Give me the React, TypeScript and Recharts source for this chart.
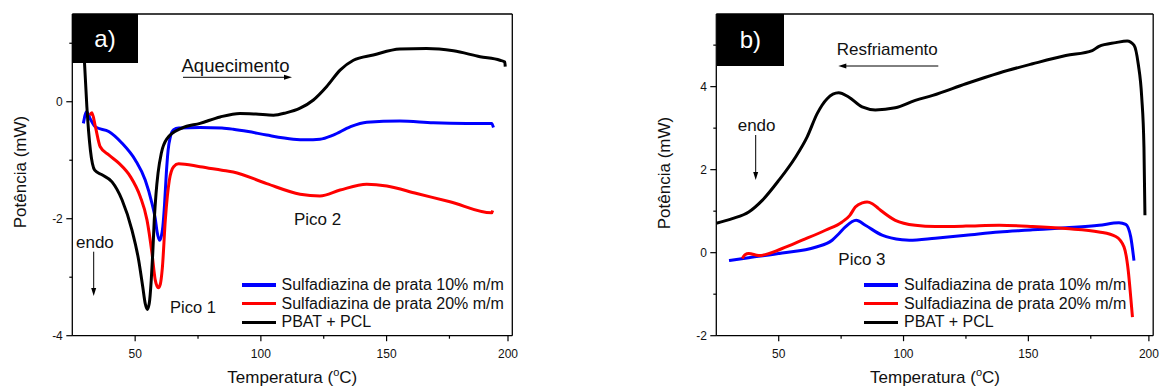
import React from 'react';
import { LineChart, Line, XAxis, YAxis, ReferenceLine } from 'recharts';

const FONT = 'Arial, "Liberation Sans", Helvetica, sans-serif';

// ---- a) Heating run ----
const heatBlueT = [29.4, 30.7, 32.0, 34.2, 39.5, 44.8, 50.1, 54.0, 56.7, 58.0, 58.7, 59.7, 60.4, 61.0, 61.7, 62.4, 63.1, 64.0, 65.3, 67.3, 75.8, 84.5, 89.0, 95.0, 102.3, 112.9, 118.0, 123.5, 128.8, 135.5, 142.1, 155.3, 168.6, 181.9, 191.8, 192.5];
const heatBlueP = [-0.37, -0.17, -0.28, -0.43, -0.51, -0.71, -1.0, -1.34, -1.74, -2.0, -2.22, -2.37, -2.3, -2.14, -1.75, -1.22, -0.83, -0.6, -0.48, -0.45, -0.44, -0.45, -0.47, -0.51, -0.57, -0.64, -0.65, -0.64, -0.57, -0.43, -0.35, -0.33, -0.36, -0.37, -0.37, -0.44];

const heatRedT = [32.0, 32.8, 34.2, 36.1, 39.5, 43.5, 48.1, 52.0, 54.7, 56.7, 58.0, 59.2, 60.0, 60.8, 62.0, 63.6, 65.3, 67.3, 75.8, 84.5, 89.0, 102.3, 115.6, 123.5, 131.5, 142.1, 150.1, 162.0, 175.2, 191.8, 192.2];
const heatRedP = [-0.23, -0.19, -0.43, -0.77, -0.91, -1.05, -1.28, -1.62, -2.02, -2.59, -3.05, -3.18, -3.12, -2.85, -2.02, -1.34, -1.11, -1.06, -1.11, -1.17, -1.2, -1.4, -1.58, -1.61, -1.51, -1.41, -1.44, -1.57, -1.71, -1.9, -1.86];

const heatBlackT = [29.3, 29.9, 30.8, 32.2, 33.9, 36.8, 40.8, 44.8, 48.7, 51.4, 53.0, 54.0, 54.8, 55.6, 56.4, 57.0, 57.6, 58.3, 59.1, 60.4, 62.7, 68.6, 75.8, 83.8, 91.7, 98.0, 105.0, 110.0, 115.6, 120.9, 126.2, 131.5, 136.8, 144.7, 155.3, 165.9, 176.6, 187.2, 195.1, 197.0, 197.2];
const heatBlackP = [1.2, 0.63, -0.09, -0.83, -1.17, -1.25, -1.37, -1.68, -2.19, -2.71, -3.16, -3.45, -3.55, -3.45, -3.05, -2.59, -2.02, -1.57, -1.22, -0.88, -0.63, -0.45, -0.37, -0.26, -0.2, -0.21, -0.23, -0.19, -0.11, 0.03, 0.26, 0.54, 0.71, 0.8, 0.9, 0.91, 0.87, 0.77, 0.71, 0.68, 0.6];

// ---- b) Cooling run ----
const coolBlueT = [30.1, 38.0, 51.4, 64.7, 71.4, 74.0, 76.7, 81.0, 84.7, 91.4, 99.4, 102.3, 112.7, 125.0, 138.3, 151.7, 165.0, 178.3, 186.3, 189.0, 191.0, 192.3];
const coolBlueP = [-0.19, -0.12, -0.01, 0.13, 0.3, 0.45, 0.62, 0.78, 0.66, 0.42, 0.31, 0.3, 0.35, 0.42, 0.5, 0.55, 0.6, 0.66, 0.72, 0.68, 0.38, -0.19];

const coolRedT = [35.4, 36.5, 38.0, 42.0, 51.4, 59.4, 68.7, 75.4, 78.5, 80.7, 83.5, 85.4, 87.5, 90.0, 96.7, 104.7, 112.7, 125.0, 138.3, 151.7, 165.0, 178.3, 185.0, 188.3, 190.0, 191.0, 191.7];
const coolRedP = [-0.14, -0.05, -0.02, -0.07, 0.1, 0.3, 0.54, 0.74, 0.9, 1.1, 1.2, 1.22, 1.18, 1.06, 0.78, 0.66, 0.63, 0.64, 0.66, 0.63, 0.58, 0.5, 0.39, 0.14, -0.43, -1.07, -1.55];

const coolBlackT = [25.0, 31.4, 38.0, 43.4, 50.0, 56.7, 61.4, 65.4, 69.4, 74.0, 78.0, 83.4, 88.7, 96.7, 104.7, 111.7, 125.0, 138.3, 151.7, 165.0, 175.6, 178.3, 185.0, 189.6, 192.3, 194.0, 195.4, 196.3, 196.7];
const coolBlackP = [0.71, 0.82, 0.98, 1.26, 1.74, 2.3, 2.79, 3.35, 3.71, 3.85, 3.75, 3.51, 3.44, 3.49, 3.67, 3.79, 4.07, 4.33, 4.55, 4.75, 4.87, 4.97, 5.06, 5.1, 5.0, 4.55, 3.75, 2.54, 0.9];

const seriesNames = ['Sulfadiazina de prata 10% m/m', 'Sulfadiazina de prata 20% m/m', 'PBAT + PCL'];
const seriesColors = ['#0000ff', '#ff0000', '#000000'];

const xTicks = [50, 75, 100, 125, 150, 175, 200];
const heatYTicks = [-4, -3, -2, -1, 0, 1];
const coolYTicks = [-2, -1, 0, 1, 2, 3, 4, 5];

type Pt = { t: number; p: number };
const zip = (t: number[], p: number[]): Pt[] => t.map((v, i) => ({ t: v, p: p[i] }));

const heatSeries = [zip(heatBlueT, heatBlueP), zip(heatRedT, heatRedP), zip(heatBlackT, heatBlackP)];
const coolSeries = [zip(coolBlueT, coolBlueP), zip(coolRedT, coolRedP), zip(coolBlackT, coolBlackP)];

function XTick(props: any) {
  const { x, y, payload } = props;
  const major = payload.value % 50 === 0;
  return (
    <g>
      <line x1={x} y1={y} x2={x} y2={y + (major ? 5.5 : 3)} stroke="#000" strokeWidth={1.2} />
      {major && (
        <text x={x} y={y + 22} textAnchor="middle" fontSize={12} fontFamily={FONT} fill="#111">
          {payload.value}
        </text>
      )}
    </g>
  );
}

function YTick(props: any) {
  const { x, y, payload } = props;
  const major = payload.value % 2 === 0;
  return (
    <g>
      <line x1={x - (major ? 6 : 3)} y1={y} x2={x} y2={y} stroke="#000" strokeWidth={1.2} />
      {major && (
        <text x={x - 9.5} y={y} dy="0.36em" textAnchor="end" fontSize={12} fontFamily={FONT} fill="#111">
          {payload.value}
        </text>
      )}
    </g>
  );
}

type PanelProps = {
  left: number;
  width: number;
  yDomain: [number, number];
  yTicks: number[];
  series: Pt[][];
};

function Panel({ left, width, yDomain, yTicks, series }: PanelProps) {
  return (
    <div style={{ position: 'absolute', left, top: 0 }}>
      <LineChart
        width={width}
        height={390}
        margin={{ top: 14, right: 7.7, bottom: 24.3, left: 22.3 }}
      >
        <XAxis
          dataKey="t"
          type="number"
          domain={[25, 200]}
          ticks={xTicks}
          allowDataOverflow
          height={30}
          tickSize={0}
          tickMargin={0}
          tick={<XTick />}
          axisLine={{ stroke: '#000', strokeWidth: 1.3 }}
          tickLine={false}
        />
        <YAxis
          type="number"
          domain={yDomain}
          ticks={yTicks}
          allowDataOverflow
          width={50}
          tickSize={0}
          tickMargin={0}
          tick={<YTick />}
          axisLine={{ stroke: '#000', strokeWidth: 1.3 }}
          tickLine={false}
        />
        <ReferenceLine y={yDomain[1]} stroke="#000" strokeWidth={1.3} />
        <ReferenceLine x={200} stroke="#000" strokeWidth={1.3} />
        {series.map((d, i) => (
          <Line
            key={seriesNames[i]}
            data={d}
            dataKey="p"
            name={seriesNames[i]}
            type="monotone"
            stroke={seriesColors[i]}
            strokeWidth={3}
            dot={false}
            activeDot={false}
            isAnimationActive={false}
          />
        ))}
      </LineChart>
    </div>
  );
}

function LegendBox({ left, top }: { left: number; top: number }) {
  return (
    <div style={{ position: 'absolute', left, top, fontFamily: FONT, fontSize: 16, color: '#111' }}>
      {seriesNames.map((n, i) => (
        <div key={n} style={{ display: 'flex', alignItems: 'center', height: 18.7, whiteSpace: 'nowrap' }}>
          <div style={{ width: 34, height: 3.5, background: seriesColors[i], marginRight: 6 }} />
          <span>{n}</span>
        </div>
      ))}
    </div>
  );
}

function Tag({ left, width, height, label }: { left: number; width: number; height: number; label: string }) {
  return (
    <div
      style={{
        position: 'absolute',
        left,
        top: 14,
        width,
        height,
        background: '#000',
        color: '#fff',
        fontFamily: FONT,
        fontSize: 24,
        display: 'flex',
        alignItems: 'center',
        justifyContent: 'center',
      }}
    >
      {label}
    </div>
  );
}

function XTitle({ cx }: { cx: number }) {
  return (
    <div
      style={{
        position: 'absolute',
        left: cx - 100,
        width: 200,
        top: 368,
        textAlign: 'center',
        fontFamily: FONT,
        fontSize: 17,
        color: '#111',
        lineHeight: '20px',
      }}
    >
      Temperatura (
      <span style={{ fontSize: 11, position: 'relative', top: -7 }}>o</span>
      C)
    </div>
  );
}

function YTitle({ cx, cy }: { cx: number; cy: number }) {
  return (
    <div
      style={{
        position: 'absolute',
        left: cx - 80,
        top: cy - 10,
        width: 160,
        height: 20,
        lineHeight: '20px',
        textAlign: 'center',
        transform: 'rotate(-90deg)',
        fontFamily: FONT,
        fontSize: 17,
        color: '#111',
      }}
    >
      Potência (mW)
    </div>
  );
}

const txt = { fontFamily: FONT, fill: '#111' } as const;

export default function App() {
  return (
    <div style={{ position: 'absolute', left: 0, top: 0, width: 1163, height: 390, background: '#fff', overflow: 'hidden' }}>
      <Panel left={0} width={520} yDomain={[-4, 1.5]} yTicks={heatYTicks} series={heatSeries} />
      <Panel left={644.4} width={516.9} yDomain={[-2, 5.75]} yTicks={coolYTicks} series={coolSeries} />

      <svg width={1163} height={390} style={{ position: 'absolute', left: 0, top: 0, pointerEvents: 'none' }}>
        {/* heating annotations */}
        <text x={181.5} y={71.5} fontSize={18.5} {...txt}>Aquecimento</text>
        <line x1={183} y1={77.3} x2={286} y2={77.3} stroke="#000" strokeWidth={1} />
        <polygon points="292,77.3 284,74.8 284,79.8" fill="#000" />
        <text x={76} y={248} fontSize={17} {...txt}>endo</text>
        <line x1={93.7} y1={251.7} x2={93.7} y2={290} stroke="#000" strokeWidth={1} />
        <polygon points="93.7,296 91.2,288 96.2,288" fill="#000" />
        <text x={170} y={313} fontSize={16.5} {...txt}>Pico 1</text>
        <text x={294} y={225} fontSize={17} {...txt}>Pico 2</text>

        {/* cooling annotations */}
        <text x={836.7} y={55} fontSize={17} {...txt}>Resfriamento</text>
        <line x1={844} y1={66} x2={938.3} y2={66} stroke="#000" strokeWidth={1} />
        <polygon points="838.3,66 846.3,63.5 846.3,68.5" fill="#000" />
        <text x={737.7} y={130.7} fontSize={17} {...txt}>endo</text>
        <line x1={755.7} y1={135} x2={755.7} y2={174} stroke="#000" strokeWidth={1} />
        <polygon points="755.7,180 753.2,172 758.2,172" fill="#000" />
        <text x={838.3} y={265} fontSize={17} {...txt}>Pico 3</text>
      </svg>

      <Tag left={72.3} width={65.4} height={49} label="a)" />
      <Tag left={716.7} width={67.3} height={51.7} label="b)" />

      <LegendBox left={241.5} top={275.6} />
      <LegendBox left={864} top={275.6} />

      <XTitle cx={292.3} />
      <XTitle cx={935} />
      <YTitle cx={20.7} cy={172} />
      <YTitle cx={665} cy={172.5} />
    </div>
  );
}
